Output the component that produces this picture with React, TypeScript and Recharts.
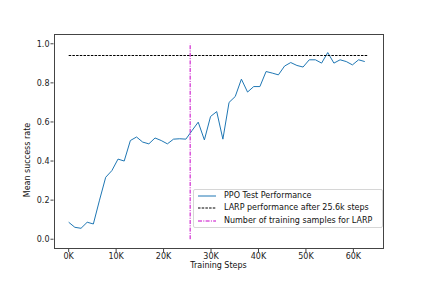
import React from "react";
import {
  ComposedChart,
  Line,
  XAxis,
  YAxis,
} from "recharts";

// training steps (x) and PPO test success rate (y)
const steps = [
  0, 1300, 2600, 3900, 5200, 6500, 7800, 9100, 10400, 11700,
  13000, 14300, 15600, 16900, 18200, 19500, 20800, 22100, 23400, 24700,
  26000, 27300, 28600, 29900, 31200, 32500, 33800, 35100, 36400, 37700,
  39000, 40300, 41600, 42900, 44200, 45500, 46800, 48100, 49400, 50700,
  52000, 53300, 54600, 55900, 57200, 58500, 59800, 61100, 62400,
];
const successRate = [
  0.087, 0.061, 0.056, 0.087, 0.078, 0.2, 0.317, 0.351, 0.41, 0.4,
  0.505, 0.523, 0.497, 0.488, 0.518, 0.505, 0.488, 0.512, 0.514, 0.512,
  0.556, 0.599, 0.508, 0.628, 0.653, 0.512, 0.7, 0.73, 0.819, 0.753,
  0.781, 0.781, 0.858, 0.85, 0.841, 0.886, 0.904, 0.889, 0.881, 0.918,
  0.918, 0.901, 0.955, 0.901, 0.918, 0.909, 0.892, 0.918, 0.909,
];

const larpLevel = 0.94;
const larpSteps = 25600;
const larpLineEnd = 63000;

const xTicks = [0, 10000, 20000, 30000, 40000, 50000, 60000];
const yTicks = [0, 0.2, 0.4, 0.6, 0.8, 1.0];

const seriesNames = [
  "PPO Test Performance",
  "LARP performance after 25.6k steps",
  "Number of training samples for LARP",
];

const ppoData = steps.map((x, i) => ({ x, y: successRate[i] }));
const larpData = [
  { x: 0, y: larpLevel },
  { x: larpLineEnd, y: larpLevel },
];
const samplesData = [
  { x: larpSteps, y: 0 },
  { x: larpSteps, y: 1 },
];

const FONT = "'DejaVu Sans', sans-serif";
const BLUE = "#1f77b4";
const MAGENTA = "#c800c8";
const FRAME = "#444";

// plot box in page pixels
const PLOT = { left: 53.5, top: 34, right: 383.5, bottom: 249 };

function LegendBox() {
  const rows = [
    { name: seriesNames[0], stroke: BLUE, dash: undefined },
    { name: seriesNames[1], stroke: "#000", dash: "2.5 1.2" },
    { name: seriesNames[2], stroke: MAGENTA, dash: "4 1.3 1 1.3" },
  ];
  return (
    <div
      style={{
        position: "absolute",
        left: 193,
        top: 189,
        width: 190,
        border: "1px solid #d6d6d6",
        borderRadius: 2,
        background: "rgba(255,255,255,0.85)",
        padding: "0 4px 0 3px",
        fontFamily: FONT,
        fontSize: 8,
        color: "#111",
        lineHeight: "12.3px",
        boxSizing: "border-box",
      }}
    >
      {rows.map((r) => (
        <div key={r.name} style={{ display: "flex", alignItems: "center", whiteSpace: "nowrap" }}>
          <svg width={20} height={6} style={{ marginRight: 7, flexShrink: 0 }}>
            <line x1={1} y1={3} x2={19} y2={3} stroke={r.stroke} strokeWidth={1} strokeDasharray={r.dash} />
          </svg>
          <span>{r.name}</span>
        </div>
      ))}
    </div>
  );
}

export default function App() {
  return (
    <div style={{ position: "absolute", left: 0, top: 0, width: 427, height: 285, background: "#fff" }}>
      <ComposedChart
        width={427}
        height={285}
        margin={{ top: PLOT.top, right: 427 - PLOT.right, left: 0, bottom: 0 }}
      >
        <XAxis
          type="number"
          dataKey="x"
          domain={[-3200, 66350]}
          ticks={xTicks}
          tickFormatter={(v: number) => `${v / 1000}K`}
          allowDataOverflow
          height={285 - PLOT.bottom}
          tickSize={3}
          tickMargin={1}
          tick={{ fontSize: 8, fill: "#222", fontFamily: FONT }}
          tickLine={{ stroke: FRAME }}
          axisLine={false}
          label={{
            value: "Training Steps",
            position: "insideBottom",
            offset: 17,
            fontSize: 8,
            fill: "#111",
            fontFamily: FONT,
          }}
        />
        <YAxis
          type="number"
          domain={[-0.05, 1.05]}
          ticks={yTicks}
          tickFormatter={(v: number) => v.toFixed(1)}
          allowDataOverflow
          width={PLOT.left}
          tickSize={3}
          tickMargin={1}
          tick={{ fontSize: 8, fill: "#222", fontFamily: FONT }}
          tickLine={{ stroke: FRAME }}
          axisLine={false}
          label={() => (
            <text
              x={27.5}
              y={160}
              transform="rotate(-90 27.5 160)"
              textAnchor="middle"
              dominantBaseline="central"
              fontSize={8}
              fill="#111"
              fontFamily={FONT}
            >
              Mean success rate
            </text>
          )}
        />
        <Line
          data={ppoData}
          dataKey="y"
          name={seriesNames[0]}
          stroke={BLUE}
          strokeWidth={1}
          dot={false}
          isAnimationActive={false}
        />
        <Line
          data={larpData}
          dataKey="y"
          name={seriesNames[1]}
          stroke="#000"
          strokeWidth={1}
          strokeDasharray="2.5 1.2"
          dot={false}
          isAnimationActive={false}
        />
        <Line
          data={samplesData}
          dataKey="y"
          name={seriesNames[2]}
          stroke={MAGENTA}
          strokeWidth={1}
          strokeDasharray="4 1.3 1 1.3"
          dot={false}
          isAnimationActive={false}
        />
      </ComposedChart>
      <div
        style={{
          position: "absolute",
          left: PLOT.left,
          top: PLOT.top,
          width: PLOT.right - PLOT.left,
          height: PLOT.bottom - PLOT.top,
          border: `1px solid ${FRAME}`,
          boxSizing: "border-box",
          pointerEvents: "none",
        }}
      />
      <LegendBox />
    </div>
  );
}
